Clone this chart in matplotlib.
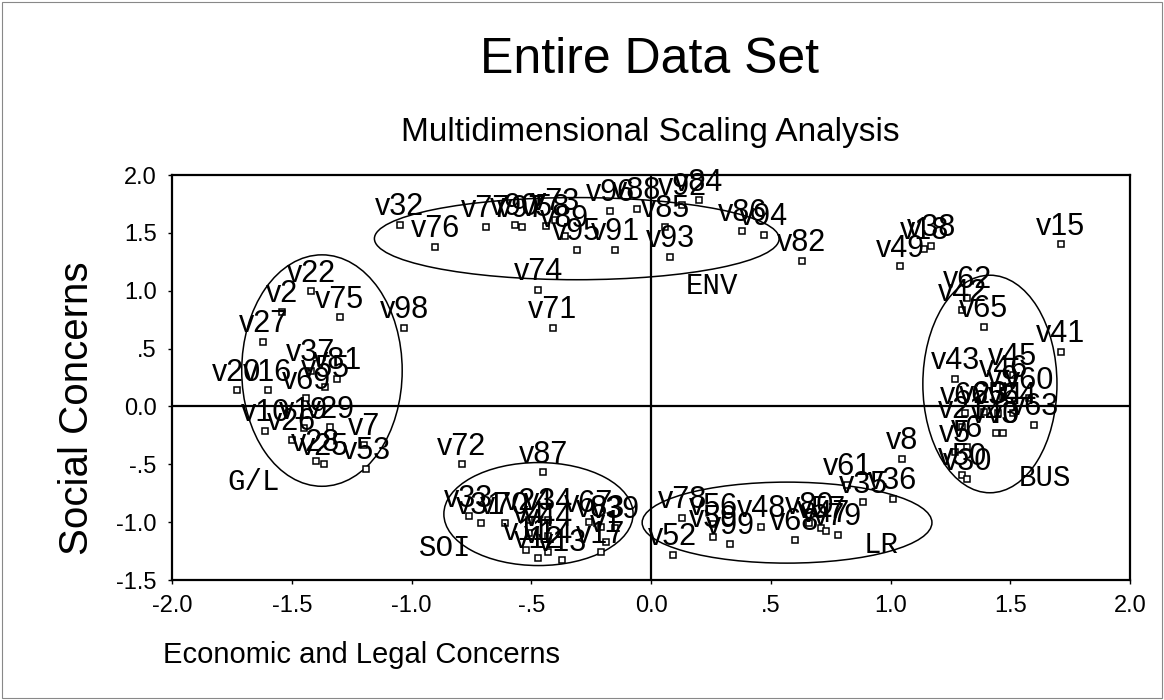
import matplotlib
matplotlib.use("Agg")
import matplotlib.pyplot as plt
from matplotlib.patches import Ellipse, Rectangle

plt.rcParams["font.family"] = ["Liberation Sans", "DejaVu Sans"]

# ---- coordinates, one group per cluster -----------------------------------
env_labels = ["v32", "v76", "v77", "v90", "v97", "v58", "v73", "v89", "v95",
              "v91", "v96", "v88", "v85", "v93", "v92", "v84", "v86", "v94",
              "v82", "v74", "v71"]
env_x = [-1.05, -0.90, -0.69, -0.57, -0.54, -0.44, -0.40, -0.36, -0.31,
         -0.15, -0.17, -0.06, 0.06, 0.08, 0.13, 0.20, 0.38, 0.47,
         0.63, -0.47, -0.41]
env_y = [1.57, 1.38, 1.55, 1.57, 1.55, 1.56, 1.61, 1.47, 1.35,
         1.35, 1.69, 1.71, 1.55, 1.29, 1.74, 1.78, 1.52, 1.48,
         1.26, 1.01, 0.68]

top_labels = ["v49", "v18", "v38", "v15"]
top_x = [1.04, 1.14, 1.17, 1.71]
top_y = [1.21, 1.36, 1.39, 1.40]

bus_labels = ["v62", "v42", "v65", "v41", "v43", "v45", "v46", "v9", "v60",
              "v66", "v23", "v54", "v64", "v63", "v21", "v40", "v3", "v6",
              "v5", "v50", "v30"]
bus_x = [1.32, 1.30, 1.39, 1.71, 1.27, 1.51, 1.47, 1.47, 1.58,
         1.31, 1.39, 1.45, 1.51, 1.60, 1.30, 1.44, 1.47, 1.32,
         1.27, 1.30, 1.32]
bus_y = [0.94, 0.83, 0.69, 0.47, 0.24, 0.275, 0.17, 0.08, 0.07,
         -0.06, -0.05, -0.06, -0.06, -0.16, -0.18, -0.23, -0.23, -0.35,
         -0.39, -0.59, -0.63]

lr_labels = ["v8", "v61", "v35", "v36", "v52", "v78", "v56", "v59", "v99",
             "v48", "v68", "v80", "v57", "v47", "v79"]
lr_x = [1.05, 0.82, 0.885, 1.01, 0.09, 0.13, 0.26, 0.26, 0.33,
        0.46, 0.60, 0.66, 0.71, 0.73, 0.78]
lr_y = [-0.45, -0.68, -0.83, -0.80, -1.28, -0.96, -1.02, -1.13, -1.19,
        -1.04, -1.15, -1.01, -1.05, -1.08, -1.11]

soi_labels = ["v72", "v87", "v33", "v31", "v70", "v24", "v34", "v67", "v83",
              "v39", "v1", "v11", "v12", "v14", "v13", "v17", "v44", "v4"]
soi_x = [-0.79, -0.45, -0.76, -0.71, -0.61, -0.51, -0.43, -0.26, -0.21,
         -0.15, -0.19, -0.52, -0.47, -0.43, -0.37, -0.21, -0.43, -0.51]
soi_y = [-0.50, -0.57, -0.95, -1.01, -1.01, -0.98, -0.98, -1.00, -1.04,
         -1.05, -1.17, -1.24, -1.31, -1.26, -1.33, -1.26, -1.12, -1.09]

gl_labels = ["v22", "v2", "v75", "v98", "v27", "v37", "v81", "v55", "v20",
             "v16", "v69", "v10", "v26", "v29", "v19", "v7", "v28", "v25",
             "v53"]
gl_x = [-1.42, -1.54, -1.30, -1.03, -1.62, -1.42, -1.31, -1.36, -1.73,
        -1.60, -1.44, -1.61, -1.50, -1.34, -1.45, -1.20, -1.40, -1.365,
        -1.19]
gl_y = [0.995, 0.82, 0.77, 0.68, 0.56, 0.31, 0.24, 0.17, 0.14,
        0.14, 0.07, -0.21, -0.29, -0.18, -0.19, -0.33, -0.47, -0.50,
        -0.54]

# cluster outlines: name, centre x, centre y, width, height, tag x, tag y
regions = [("ENV", -0.31, 1.45, 1.69, 0.71, 0.255, 1.04),
           ("G/L", -1.374, 0.31, 0.67, 2.0, -1.66, -0.65),
           ("SOI", -0.47, -0.93, 0.79, 0.89, -0.86, -1.22),
           ("LR", 0.568, -1.004, 1.21, 0.70, 0.96, -1.20),
           ("BUS", 1.415, 0.194, 0.56, 1.88, 1.645, -0.62)]

ticks = [-2.0, -1.5, -1.0, -0.5, 0.0, 0.5, 1.0, 1.5, 2.0]
xtick_labels = ["-2.0", "-1.5", "-1.0", "-.5", "0.0", ".5", "1.0", "1.5", "2.0"]
yticks = [-1.5, -1.0, -0.5, 0.0, 0.5, 1.0, 1.5, 2.0]
ytick_labels = ["-1.5", "-1.0", "-.5", "0.0", ".5", "1.0", "1.5", "2.0"]

fig = plt.figure(figsize=(11.64, 7.0), dpi=100)
ax = fig.add_axes([0.1478, 0.1714, 0.8230, 0.5786])
ax.set_xlim(-2.0, 2.0)
ax.set_ylim(-1.5, 2.0)
for s in ax.spines.values():
    s.set_linewidth(1.6)
ax.axhline(0, color="black", lw=1.6, zorder=1)
ax.axvline(0, color="black", lw=1.6, zorder=1)

groups = [(env_labels, env_x, env_y), (top_labels, top_x, top_y),
          (bus_labels, bus_x, bus_y), (lr_labels, lr_x, lr_y),
          (soi_labels, soi_x, soi_y), (gl_labels, gl_x, gl_y)]
for labels, xs, ys in groups:
    ax.plot(xs, ys, "s", ms=4.5, mfc="white", mec="black", mew=1.1,
            ls="none", zorder=3)
    for lab, x, y in zip(labels, xs, ys):
        ax.annotate(lab, (x, y), textcoords="offset points", xytext=(0, 7),
                    ha="center", va="baseline", fontsize=22, zorder=4)

for name, cx, cy, w, h, tx, ty in regions:
    ax.add_patch(Ellipse((cx, cy), w, h, fill=False, ec="black", lw=1.1,
                         zorder=2))
    ax.text(tx, ty, name, ha="center", va="center", fontsize=21,
            family=["Liberation Mono", "DejaVu Sans Mono"])

ax.set_xticks(ticks, xtick_labels, fontsize=17)
ax.set_yticks(yticks, ytick_labels, fontsize=17)
ax.tick_params(length=3, width=1, pad=8)

fig.text(0.5584, 1 - 60 / 700, "Entire Data Set", ha="center", va="center",
         fontsize=36)
fig.text(0.5584, 1 - 132 / 700, "Multidimensional Scaling Analysis",
         ha="center", va="center", fontsize=24)
fig.text(163 / 1164, 1 - 655 / 700, "Economic and Legal Concerns",
         ha="left", va="center", fontsize=21)
fig.text(77 / 1164, 1 - 408 / 700, "Social Concerns", rotation=90,
         ha="center", va="center", fontsize=29)
fig.patches.append(Rectangle((0.002, 0.003), 0.996, 0.994,
                             transform=fig.transFigure, fill=False,
                             ec="#888888", lw=0.8))

fig.savefig("out.png", dpi=100)
